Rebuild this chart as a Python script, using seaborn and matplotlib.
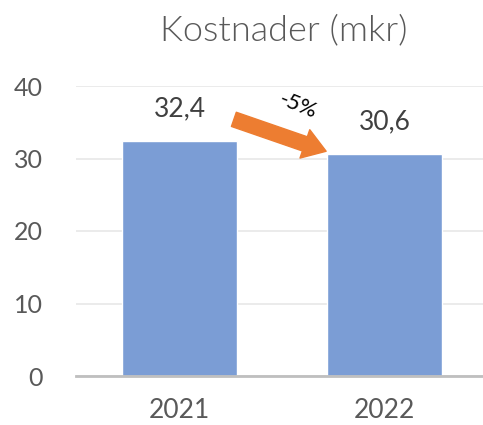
import pandas as pd
import seaborn as sns
import matplotlib
matplotlib.use("Agg")
import matplotlib.pyplot as plt

years = ["2021", "2022"]
costs = [32.4, 30.6]
change_label = "-5%"
title = "Kostnader (mkr)"

sns.set_theme(style="white")
plt.rcParams['font.family'] = ['Lato', 'DejaVu Sans']

df = pd.DataFrame({"year": years, "cost": costs})

fig = plt.figure(figsize=(4.83, 4.25), dpi=100)
ax = fig.add_axes([76 / 483, 49 / 425, 1 - 76 / 483, 290 / 425])

sns.barplot(data=df, x="year", y="cost", color="#7B9DD5", width=0.56,
            saturation=1, ax=ax, zorder=2)

ax.set_ylim(0, 40)
ax.set_xlim(-0.505, 1.48)
ax.set_yticks([0, 10, 20, 30, 40])
ax.yaxis.grid(True, color="#E8E8E8", linewidth=1.2, zorder=0)
ax.set_axisbelow(True)
for s in ["top", "right", "left"]:
    ax.spines[s].set_visible(False)
ax.spines["bottom"].set_color("#BFBFBF")
ax.spines["bottom"].set_linewidth(2)
ax.set_xlabel("")
ax.set_ylabel("")
ax.tick_params(axis="both", length=0, colors="#595959")
ax.tick_params(axis="x", pad=16, labelsize=19)
ax.tick_params(axis="y", pad=24, labelsize=18)

for i, v in enumerate(costs):
    ax.annotate(f"{v:.1f}".replace(".", ","), (i, v), xytext=(0, 14),
                textcoords="offset points", ha="center", va="bottom",
                fontsize=19, color="#404040")

ax.annotate("", xy=(0.715, 31.0), xytext=(0.265, 35.4),
            arrowprops=dict(arrowstyle="simple,head_length=0.9,head_width=1.2,tail_width=0.6",
                            color="#ED7D31", mutation_scale=18, shrinkA=0, shrinkB=0))
ax.text(0.578, 37.3, change_label, rotation=-22, ha="center", va="center",
        fontsize=16, color="#000000")

fig.text(284 / 483, 0.928, title, ha="center", va="center", fontsize=26,
         fontweight=300, color="#595959")

fig.savefig("out.png", dpi=100)
